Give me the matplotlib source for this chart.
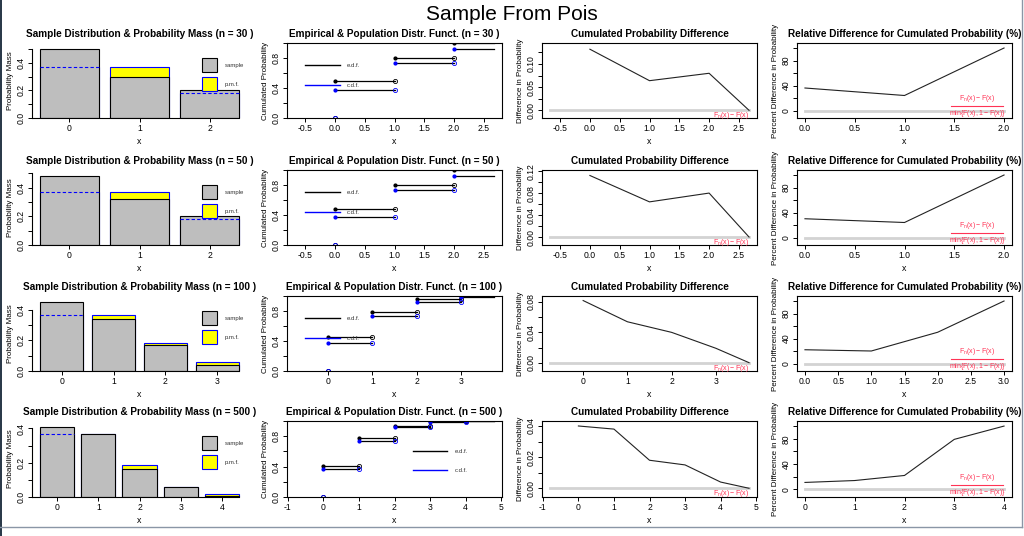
import numpy as np
import matplotlib.pyplot as plt
from matplotlib.patches import Patch, Rectangle
from matplotlib.lines import Line2D

plt.rcParams['font.family'] = ['Liberation Sans', 'DejaVu Sans']
plt.rcParams['mathtext.default'] = 'regular'

# data (Poisson sample, lambda ~ 1)
sizes = [30, 50, 100, 500]
support = [[0, 1, 2], [0, 1, 2], [0, 1, 2, 3], [0, 1, 2, 3, 4]]
sample_freq = [[0.50, 0.30, 0.20],
               [0.48, 0.32, 0.20],
               [0.45, 0.34, 0.17, 0.04],
               [0.408, 0.366, 0.164, 0.058, 0.004]]
pmf = [[0.368, 0.368, 0.184],
       [0.368, 0.368, 0.184],
       [0.368, 0.368, 0.184, 0.061],
       [0.368, 0.368, 0.184, 0.061, 0.015]]
edf = [[0.50, 0.80, 1.00],
       [0.48, 0.80, 1.00],
       [0.45, 0.79, 0.96, 1.00],
       [0.408, 0.774, 0.938, 0.996, 1.00]]
cdf = [[0.368, 0.736, 0.920],
       [0.368, 0.736, 0.920],
       [0.368, 0.736, 0.920, 0.981],
       [0.368, 0.736, 0.920, 0.981, 0.996]]
x_first = [-0.67, -0.67, -0.75, -0.80]
x_last = [2.67, 2.67, 3.75, 4.80]
diff = [[0.132, 0.064, 0.080, 0.0],
        [0.112, 0.064, 0.080, 0.0],
        [0.082, 0.054, 0.040, 0.019, 0.0],
        [0.040, 0.038, 0.018, 0.015, 0.004, 0.0]]
rel_diff = [[36, 24, 100],
            [30, 24, 100],
            [22, 20, 50, 100],
            [11, 14, 22, 79, 100]]

# axis ranges / ticks per row (col 3 and 4)
diff_ylim = [(-0.0166, 0.1454), (-0.0145, 0.122), (-0.011, 0.088), (-0.0056, 0.0432)]
diff_ticks = [(0.025, 0.05), (0.02, 0.04), (0.02, 0.04), (0.01, 0.02)]
rel_ylim = (-12, 108)

W, H = 1024, 536
fig = plt.figure(figsize=(W / 100, H / 100), dpi=100)
fig.text(0.5, 1 - 15 / H, 'Sample From Pois', ha='center', va='center', fontsize=15)

row_top = [43, 170, 296, 421]
col_left = [32, 287, 542, 797]
TFS = 7.2   # panel title
KFS = 6.2   # tick labels
LFS = 5.8   # axis labels
SFS = 4.3   # legend / small text
RED = '#ff3355'


def new_axes(r, c):
    h = 76 if r == 3 else 75
    return fig.add_axes([col_left[c] / W, 1 - (row_top[r] + h) / H, 215 / W, h / H])


def style(ax, ylab, box=True):
    ax.tick_params(direction='out', length=3, width=0.7, pad=1.5, labelsize=KFS)
    for t in ax.get_yticklabels():
        t.set_rotation(90)
        t.set_va('center')
    ax.set_xlabel('x', fontsize=LFS + 0.5, labelpad=3)
    ax.set_ylabel(ylab, fontsize=LFS, labelpad=2)
    for s in ax.spines.values():
        s.set_linewidth(0.8)
        s.set_visible(box)


def label_every(ax, ticks, step):
    ax.set_yticks(ticks)
    labs = []
    for t in ticks:
        k = t / step
        labs.append(('%.2f' % t) if abs(k - round(k)) < 1e-6 else '')
    ax.set_yticklabels(labs)


def x_axis(ax, r, lo, hi):
    if r < 2:
        ax.set_xticks([-0.5, 0, 0.5, 1, 1.5, 2, 2.5])
        ax.set_xticklabels(['-0.5', '0.0', '0.5', '1.0', '1.5', '2.0', '2.5'])
    else:
        ax.set_xticks(np.arange(np.ceil(lo), np.floor(hi) + 0.5))
        ax.xaxis.set_major_formatter(plt.FormatStrFormatter('%d'))


for r in range(4):
    xs = np.array(support[r])
    n = sizes[r]

    # ---- sample distribution & pmf
    ax = new_axes(r, 0)
    w = 1 / 1.2
    ax.bar(xs, pmf[r], width=w, color='yellow', edgecolor='blue', lw=0.8)
    ax.bar(xs, sample_freq[r], width=w, color='#bebebe', edgecolor='black', lw=0.8)
    for x, f, p in zip(xs, sample_freq[r], pmf[r]):
        if p < f:
            ax.plot([x - w / 2, x + w / 2], [p, p], color='blue', ls=(0, (3, 2)), lw=0.8)
    lo, hi = xs[0] - w / 2, xs[-1] + w / 2
    pad = 0.04 * (hi - lo)
    ax.set_xlim(lo - pad, hi + pad)
    ymax = 1.087 * max(sample_freq[r])
    ax.set_ylim(0, ymax)
    yt = np.arange(0, ymax, 0.1)
    ax.set_yticks(yt)
    ax.set_yticklabels(['%.1f' % t if i % 2 == 0 else '' for i, t in enumerate(yt)])
    ax.set_xticks(xs)
    ax.set_xticklabels([str(v) for v in xs])
    style(ax, 'Probability Mass', box=False)
    ax.spines['left'].set_visible(True)
    ax.spines['bottom'].set_visible(True)
    ax.spines['left'].set_bounds(0, yt[-1])
    ax.spines['bottom'].set_bounds(lo - pad, hi)
    ax.set_title('Sample Distribution & Probability Mass (n = %d )' % n,
                 fontsize=TFS, fontweight='bold', pad=4)
    hl = [Patch(facecolor='#bebebe', edgecolor='black', lw=0.8, label='sample'),
          Patch(facecolor='yellow', edgecolor='blue', lw=0.8, label='p.m.f.')]
    leg = ax.legend(handles=hl, loc='upper left', bbox_to_anchor=(0.79, 0.80), frameon=False,
                    fontsize=SFS, handlelength=2.5, handleheight=3.25, labelspacing=0.85,
                    handletextpad=1.3, borderpad=0, borderaxespad=0)
    for t in leg.get_texts():
        t.set_color('#333333')

    # ---- empirical & population distribution function
    ax = new_axes(r, 1)
    right = list(xs[1:]) + [x_last[r]]
    for xa, xb, v in zip(xs, right, edf[r]):
        ax.plot([xa, xb], [v, v], color='black', lw=0.9)
    for xa, xb, v in zip(xs, right, cdf[r]):
        ax.plot([xa, xb], [v, v], color='black', lw=0.9)
    ax.plot(xs, edf[r], 'o', color='black', ms=2.0)
    ax.plot(xs, [0] + list(edf[r][:-1]), 'o', mfc='none', mec='black', ms=3, mew=0.6)
    ax.plot(xs, cdf[r], 'o', color='blue', ms=2.0)
    ax.plot(xs, [0] + list(cdf[r][:-1]), 'o', mfc='none', mec='blue', ms=3, mew=0.6)
    span = x_last[r] - x_first[r]
    xlo, xhi = x_first[r] - 0.04 * span, x_last[r] + 0.04 * span
    ax.set_xlim(xlo, xhi)
    ax.set_ylim(0, 1)
    ax.set_yticks([0, 0.2, 0.4, 0.6, 0.8, 1.0])
    ax.set_yticklabels(['0.0', '', '0.4', '', '0.8', ''])
    x_axis(ax, r, xlo, xhi)
    style(ax, 'Cumulated Probability')
    ax.set_title('Empirical & Population Distr. Funct. (n = %d )' % n,
                 fontsize=TFS, fontweight='bold', pad=4)
    hl = [Line2D([], [], color='black', lw=1), Line2D([], [], color='blue', lw=1)]
    anchor = (0.584, 0.63) if r == 3 else (0.084, 0.73)
    ls_ = 2.2 if r == 3 else 2.35
    leg = ax.legend(hl, ['e.d.f.', 'c.d.f.'], loc='upper left', bbox_to_anchor=anchor,
                    frameon=False, fontsize=SFS, handlelength=5.8, handletextpad=1.2,
                    labelspacing=ls_, borderpad=0, borderaxespad=0)
    for t in leg.get_texts():
        t.set_color('#333333')

    # ---- cumulated probability difference
    ax = new_axes(r, 2)
    xd = list(xs) + [x_last[r]]
    ax.plot([x_first[r], x_last[r]], [0, 0], color='#d3d3d3', lw=2)
    ax.plot(xd, diff[r], color='#222222', lw=0.8)
    ax.text(x_last[r], 0, r'$F_n(x) - F(x)$', color=RED,
            fontsize=5, ha='right', va='top')
    ax.set_xlim(xlo, xhi)
    ax.set_ylim(*diff_ylim[r])
    step, lstep = diff_ticks[r]
    label_every(ax, np.arange(0, diff_ylim[r][1], step), lstep)
    x_axis(ax, r, xlo, xhi)
    style(ax, 'Difference in Probability')
    ax.set_title('Cumulated Probability Difference', fontsize=TFS, fontweight='bold', pad=4)

    # ---- relative difference
    ax = new_axes(r, 3)
    ax.plot([xs[0], xs[-1]], [0, 0], color='#d3d3d3', lw=2)
    ax.plot(xs, rel_diff[r], color='#222222', lw=0.8)
    # formula as a hand-set fraction in the lower right corner
    ax.text(0.837, 0.255, r'$F_n(x) - F(x)$', color=RED, fontsize=5,
            ha='center', va='center', transform=ax.transAxes)
    ax.plot([0.716, 0.958], [0.16, 0.16], color=RED, lw=0.8, transform=ax.transAxes)
    ax.text(0.837, 0.055, r'$min\{F(x), 1 - F(x)\}$', color=RED, fontsize=5,
            ha='center', va='center', transform=ax.transAxes)
    sp = xs[-1] - xs[0]
    ax.set_xlim(xs[0] - 0.04 * sp, xs[-1] + 0.04 * sp)
    ax.set_ylim(*rel_ylim)
    ax.set_yticks([0, 20, 40, 60, 80, 100])
    ax.set_yticklabels(['0', '', '40', '', '80', ''])
    if r < 2:
        ax.set_xticks([0, 0.5, 1, 1.5, 2])
        ax.set_xticklabels(['0.0', '0.5', '1.0', '1.5', '2.0'])
    elif r == 2:
        ax.set_xticks([0, 0.5, 1, 1.5, 2, 2.5, 3])
        ax.set_xticklabels(['0.0', '0.5', '1.0', '1.5', '2.0', '2.5', '3.0'])
    else:
        ax.set_xticks(xs)
    style(ax, 'Percent Difference in Probability')
    ax.set_title('Relative Difference for Cumulated Probability (%)',
                 fontsize=TFS, fontweight='bold', pad=4)

# window frame visible in the reference screenshot
fig.add_artist(Rectangle((0, 0), 2 / W, 1, transform=fig.transFigure, color='#2b3a4a', lw=0))
fig.add_artist(Line2D([0, 1022 / W], [1 - 527 / H] * 2, transform=fig.transFigure,
                      color='#8a96a6', lw=1))
fig.add_artist(Line2D([1022 / W] * 2, [1 - 527 / H, 1], transform=fig.transFigure,
                      color='#8a96a6', lw=1))

fig.savefig('out.png', dpi=100)
